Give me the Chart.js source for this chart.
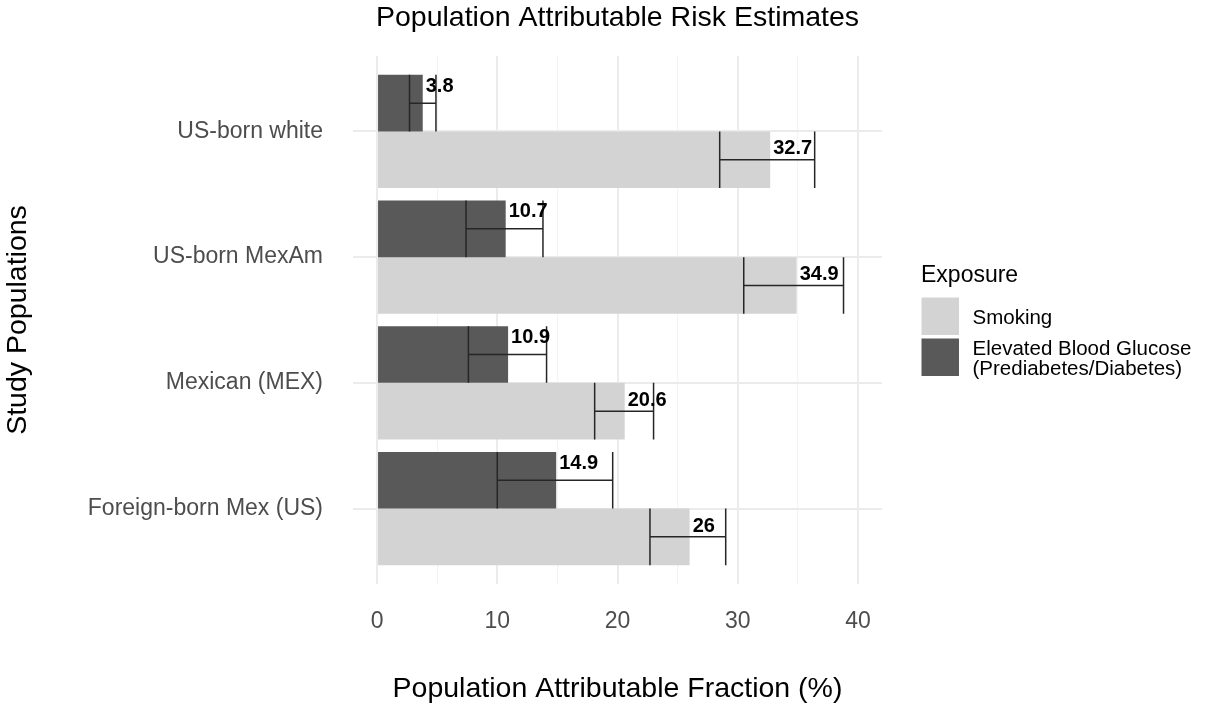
<!DOCTYPE html>
<html>
<head>
<meta charset="utf-8">
<script src="https://cdn.jsdelivr.net/npm/chart.js@4.4.1/dist/chart.umd.min.js"></script>
<style>
  html, body { margin: 0; padding: 0; background: #ffffff; }
  canvas { display: block; }
</style>
</head>
<body>
<canvas id="parChart" width="1205" height="710"></canvas>
<script>
// Study populations (top to bottom)
const categories = ['US-born white', 'US-born MexAm', 'Mexican (MEX)', 'Foreign-born Mex (US)'];

// Elevated blood glucose: point estimate and 95% CI
const glucoseValues = [3.8, 10.7, 10.9, 14.9];
const glucoseLow    = [2.7, 7.4, 7.6, 10.0];
const glucoseHigh   = [4.9, 13.8, 14.1, 19.6];

// Smoking: point estimate and 95% CI
const smokingValues = [32.7, 34.9, 20.6, 26];
const smokingLow    = [28.5, 30.5, 18.1, 22.7];
const smokingHigh   = [36.4, 38.8, 23.0, 29.0];

// x axis breaks
const xMajorTicks = [0, 10, 20, 30, 40];
const xMinorTicks = [5, 15, 25, 35];

const seriesNames = {
  smoking: 'Smoking',
  glucose: ['Elevated Blood Glucose', '(Prediabetes/Diabetes)']
};

const COLOR_SMOKING = '#d3d3d3';
const COLOR_GLUCOSE = '#595959';
const FONT = '"Liberation Sans", Arial, Helvetica, sans-serif';

Chart.defaults.font.family = FONT;

const toPoints = (vals) => vals.map((v, i) => ({ x: v, y: i + 1 }));

// whiskers spanning each bar, with a line from low to high
const errorBars = {
  id: 'errorBars',
  afterDatasetsDraw(chart) {
    const { ctx } = chart;
    const xs = chart.scales.x;
    chart.data.datasets.forEach((ds, d) => {
      const meta = chart.getDatasetMeta(d);
      meta.data.forEach((bar, i) => {
        const lo = xs.getPixelForValue(ds.ciLow[i]);
        const hi = xs.getPixelForValue(ds.ciHigh[i]);
        const top = bar.y - bar.height / 2;
        const bottom = bar.y + bar.height / 2;
        ctx.save();
        ctx.strokeStyle = '#262626';
        ctx.lineWidth = 1.5;
        ctx.beginPath();
        ctx.moveTo(lo, bar.y); ctx.lineTo(hi, bar.y);
        ctx.moveTo(lo, top); ctx.lineTo(lo, bottom);
        ctx.moveTo(hi, top); ctx.lineTo(hi, bottom);
        ctx.stroke();
        ctx.restore();
      });
    });
  }
};

// bold value labels placed just past each bar end
const valueLabels = {
  id: 'valueLabels',
  afterDatasetsDraw(chart) {
    const { ctx } = chart;
    const xs = chart.scales.x;
    const ys = chart.scales.y;
    chart.data.datasets.forEach((ds) => {
      ds.data.forEach((p) => {
        const x = xs.getPixelForValue(p.x) + 3;
        const y = ys.getPixelForValue(p.y + ds.labelShift) - 14;
        ctx.save();
        ctx.font = 'bold 20px ' + FONT;
        ctx.fillStyle = '#000000';
        ctx.textAlign = 'left';
        ctx.textBaseline = 'middle';
        ctx.fillText(String(p.x), x, y);
        ctx.restore();
      });
    });
  }
};

// legend drawn to the right of the panel
const sideLegend = {
  id: 'sideLegend',
  afterDraw(chart) {
    const { ctx } = chart;
    const left = chart.chartArea.right + 39;
    ctx.save();
    ctx.textAlign = 'left';
    ctx.textBaseline = 'middle';
    ctx.fillStyle = '#000000';
    ctx.font = '23px ' + FONT;
    ctx.fillText('Exposure', left, 276);

    const sw = 37.5, sh = 37.5;
    ctx.fillStyle = COLOR_SMOKING;
    ctx.fillRect(left + 0.5, 297.5, sw, sh);
    ctx.fillStyle = COLOR_GLUCOSE;
    ctx.fillRect(left + 0.5, 338.5, sw, sh);

    ctx.fillStyle = '#000000';
    ctx.font = '20.5px ' + FONT;
    const tx = left + 51.5;
    ctx.fillText(seriesNames.smoking, tx, 318);
    ctx.fillText(seriesNames.glucose[0], tx, 349);
    ctx.fillText(seriesNames.glucose[1], tx, 369);
    ctx.restore();
  }
};

new Chart(document.getElementById('parChart'), {
  type: 'bar',
  data: {
    datasets: [
      {
        label: seriesNames.glucose.join(' '),
        data: toPoints(glucoseValues),
        ciLow: glucoseLow,
        ciHigh: glucoseHigh,
        labelShift: -0.25,
        backgroundColor: COLOR_GLUCOSE,
        borderWidth: 0,
        categoryPercentage: 0.9,
        barPercentage: 1.0
      },
      {
        label: seriesNames.smoking,
        data: toPoints(smokingValues),
        ciLow: smokingLow,
        ciHigh: smokingHigh,
        labelShift: 0.25,
        backgroundColor: COLOR_SMOKING,
        borderWidth: 0,
        categoryPercentage: 0.9,
        barPercentage: 1.0
      }
    ]
  },
  options: {
    indexAxis: 'y',
    responsive: false,
    animation: false,
    devicePixelRatio: 1,
    layout: { padding: { top: 0, right: 323, bottom: 0, left: 0 } },
    plugins: {
      legend: { display: false },
      tooltip: { enabled: false },
      title: {
        display: true,
        fullSize: false,
        text: 'Population Attributable Risk Estimates',
        color: '#000000',
        font: { size: 28.5, weight: 'normal' },
        padding: { top: 1.5, bottom: 20.3 }
      }
    },
    scales: {
      x: {
        type: 'linear',
        position: 'bottom',
        min: -2,
        max: 42,
        afterBuildTicks(scale) {
          scale.ticks = [...xMajorTicks, ...xMinorTicks]
            .sort((a, b) => a - b)
            .map(v => ({ value: v }));
        },
        afterFit(scale) { scale.height = 126; },
        border: { display: false },
        grid: {
          drawTicks: false,
          color: (c) => (c.tick && c.tick.value % 10 === 0) ? '#ebebeb' : '#f4f4f4',
          lineWidth: (c) => (c.tick && c.tick.value % 10 === 0) ? 2 : 1.2
        },
        ticks: {
          autoSkip: false,
          maxRotation: 0,
          padding: 24,
          color: '#4d4d4d',
          font: { size: 23 },
          callback: (v) => (v % 10 === 0 ? String(v) : '')
        },
        title: {
          display: true,
          text: 'Population Attributable Fraction (%)',
          color: '#000000',
          font: { size: 28.5 },
          padding: { top: 0, bottom: 4 }
        }
      },
      y: {
        type: 'linear',
        position: 'left',
        reverse: true,
        offset: false,
        min: 0.4,
        max: 4.6,
        afterBuildTicks(scale) {
          scale.ticks = categories.map((_, i) => ({ value: i + 1 }));
        },
        afterFit(scale) { scale.width = 353; },
        border: { display: false },
        grid: {
          offset: false,
          drawTicks: false,
          color: '#ebebeb',
          lineWidth: 2
        },
        ticks: {
          autoSkip: false,
          padding: 30,
          color: '#4d4d4d',
          font: { size: 23 },
          callback: (v) => categories[Math.round(v) - 1] || ''
        },
        title: {
          display: true,
          text: 'Study Populations',
          color: '#000000',
          font: { size: 28.5 },
          padding: { top: 1, bottom: 0 }
        }
      }
    }
  },
  plugins: [errorBars, valueLabels, sideLegend]
});
</script>
</body>
</html>
